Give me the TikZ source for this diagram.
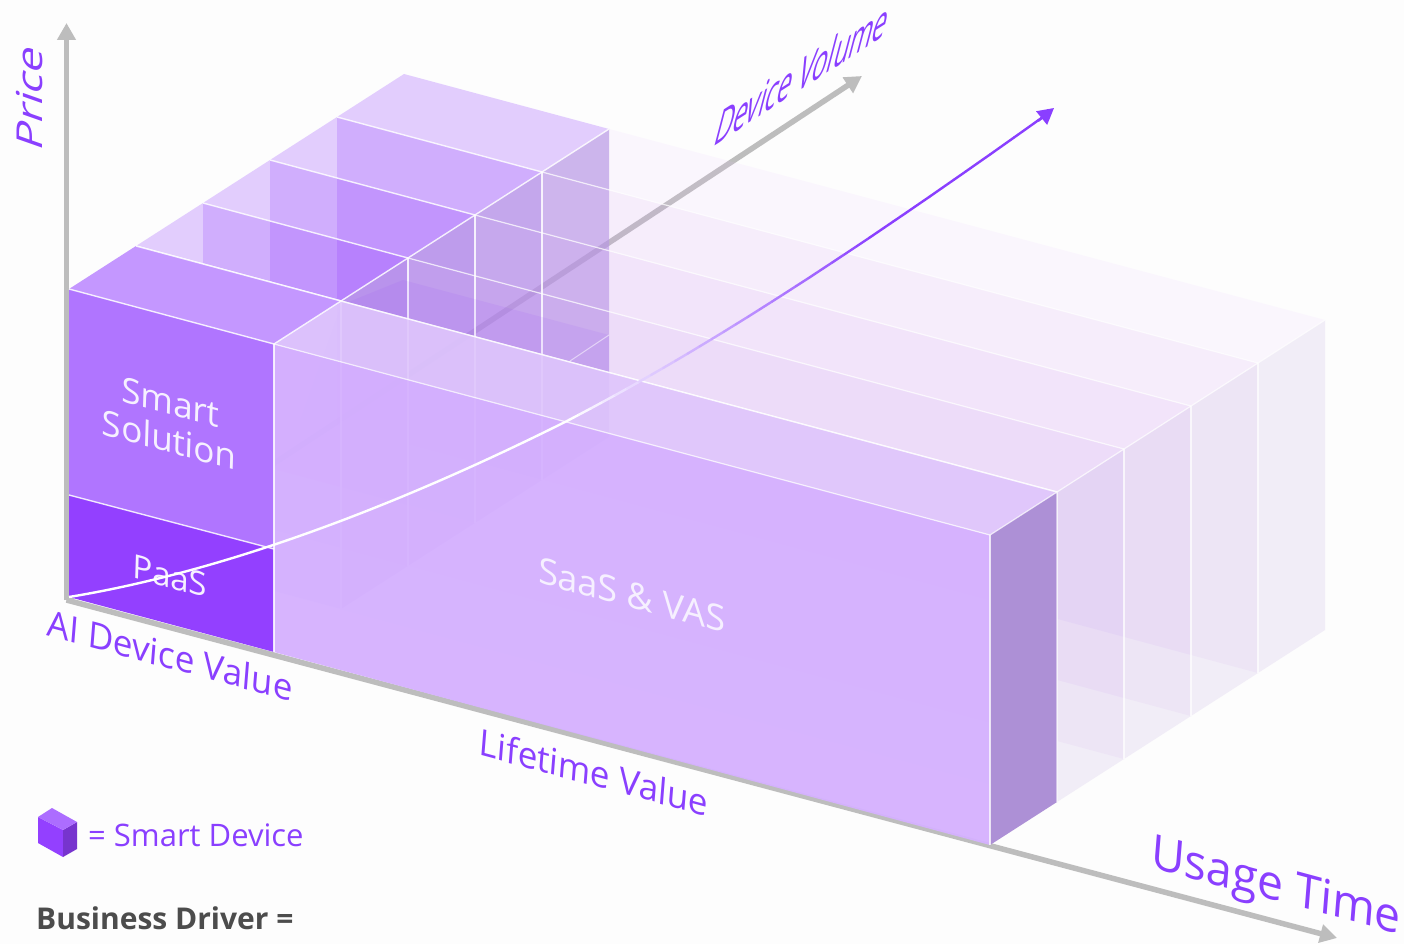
\documentclass[tikz,border=0pt]{standalone}
\usepackage{fontspec}
\setmainfont{Open Sans}
\usetikzlibrary{arrows.meta}
\definecolor{bg}{HTML}{FDFDFD}
\definecolor{axisgrey}{HTML}{BDBDBD}
\definecolor{lab}{HTML}{8A3FFF}
\definecolor{paas}{HTML}{9340FF}
\definecolor{solu}{HTML}{B075FF}
\definecolor{solutop}{HTML}{C497FF}
\definecolor{saas}{HTML}{D5B1FF}
\definecolor{saastop}{HTML}{DFC6FC}
\definecolor{sidec}{HTML}{AD90D6}
\definecolor{stackside}{HTML}{B08EE2}
\definecolor{palefront}{HTML}{B870EE}
\definecolor{paletop}{HTML}{EBC4FF}
\definecolor{inner}{HTML}{F6F0FF}
\tikzset{
  axisline/.style={draw=axisgrey,line width=5.5pt,-{Triangle[length=17pt,width=18pt]}},
  lbl/.style={transform shape,text=lab,font=\fontsize{36}{36}\selectfont,inner sep=0pt},
  inlbl/.style={transform shape,text=inner,font=\fontsize{35}{38}\selectfont,inner sep=0pt,align=center},
  edgeL/.style={draw=white,draw opacity=.85,line width=1.4pt},
  edgeR/.style={draw=white,draw opacity=.75,line width=1.2pt},
}
\begin{document}
\begin{tikzpicture}[x=1pt,y=-1pt]
\useasboundingbox (0,0) rectangle (1404,944);
\fill[bg] (0,0) rectangle (1404,944);
% axes
\coordinate (O) at (66.5,600);
\coordinate (pTip) at (66.5,23);
\coordinate (dTip) at (862,76);
\coordinate (uTip) at (1337,938);
\draw[axisline] (O) -- (pTip);
\draw[axisline] (O) -- (dTip);
\draw[axisline] (O) -- (uTip);
% rows 4..1, back to front
\foreach \k in {4,3,2,1}{
 \begin{scope}[shift={({67*\k},{-43*\k})}]
  % right section
  \fill[palefront,opacity=.07] (274,344)--(990,535)--(990,845)--(274,652)--cycle;
  \fill[paletop,opacity=.12] (274,344)--(990,535)--(1057,492)--(341,301)--cycle;
  \fill[sidec,opacity=.14] (990,535)--(1057,492)--(1057,802)--(990,845)--cycle;
  % left section
  \fill[paas,opacity=.22] (69,289)--(274,344)--(274,652)--(69,597)--cycle;
  \fill[paas,opacity=.25] (69,289)--(274,344)--(341,301)--(136,246)--cycle;
  \fill[stackside,opacity=.62] (274,344)--(341,301)--(341,609)--(274,652)--cycle;
 \end{scope}
}
\foreach \k in {4,3,2,1}{
 \begin{scope}[shift={({67*\k},{-43*\k})}]
  \draw[edgeL] (69,289)--(274,344);
  \draw[edgeL] (274,344)--(341,301);
  \draw[edgeL] (274,344)--(274,652);
  \draw[edgeR] (274,344)--(990,535);
  \draw[edgeR] (990,535)--(1057,492);
  \draw[edgeR] (990,535)--(990,845);
 \end{scope}
}
% PaaS level seen through the stack
\fill[paas,opacity=.09] (403,280)--(609,335)--(609,420)--(300,420)--(341,305)--cycle;
\draw[white,opacity=.5,line width=1pt] (609,335)--(570,361);
% front row
\fill[saas,opacity=.95] (274,344)--(990,535)--(990,845)--(274,652)--cycle;
\fill[saastop,opacity=.9] (274,344)--(990,535)--(1057,492)--(341,301)--cycle;
\fill[sidec] (990,535)--(1057,492)--(1057,802)--(990,845)--cycle;
\fill[solu] (69,289)--(274,344)--(274,549)--(69,495)--cycle;
\fill[paas] (69,495)--(274,549)--(274,652)--(69,597)--cycle;
\fill[solutop] (69,289)--(274,344)--(341,301)--(136,246)--cycle;
\draw[edgeL] (69,289)--(274,344)--(341,301);
\draw[edgeL] (136,246)--(341,301)--(1057,492);
\draw[edgeL] (69,495)--(274,549);
\draw[edgeL] (274,344)--(274,652);
\draw[edgeR] (274,344)--(990,535)--(1057,492)--(1057,802);
\draw[edgeR] (990,535)--(990,845);
% face labels
\node[inlbl,cm={1,-.268,.03,1,(170,421)}] (solution) at (0,0) {Smart\\Solution};
\node[inlbl,cm={1,-.268,.03,1,(170,576)},font=\fontsize{33}{38}\selectfont] (paaslab) at (0,0) {PaaS};
\node[inlbl,cm={1,-.268,.03,1,(632,595)},font=\fontsize{36}{38}\selectfont] (saaslab) at (0,0) {SaaS \& VAS};
% axis labels
\node[lbl,cm={.966,-.26,.08,1,(170,655)}] (aidv) at (0,0) {AI Device Value};
\node[lbl,cm={.966,-.26,.08,1,(594,772)}] (ltv) at (0,0) {Lifetime Value};
\node[lbl,cm={.966,-.26,.08,1,(1276,889)},font=\fontsize{47.5}{47.5}\selectfont] (ut) at (0,0) {Usage Time};
\node[lbl,cm={.57,.365,.3,1.15,(803,73)},font=\fontsize{44}{44}\selectfont] (dv) at (0,0) {Device Volume};
\node[lbl,cm={0,1.17,-.94,.33,(30,97)},font=\fontsize{38}{38}\selectfont] (price) at (0,0) {Price};
% value curve: white part, then fading into purple
\draw[white,line width=2.4pt] (69,597) .. controls (239,569) and (417,496) .. (567,421);
\foreach \i in {0,...,39}{
  \pgfmathsetmacro{\ta}{\i/40}
  \pgfmathsetmacro{\tb}{(\i+1)/40}
  \pgfmathsetmacro{\pc}{min(100,\ta*160)}
  \pgfmathsetmacro{\xa}{(1-\ta)^3*567+3*(1-\ta)^2*\ta*727+3*(1-\ta)*\ta^2*890+\ta^3*1050}
  \pgfmathsetmacro{\ya}{(1-\ta)^3*421+3*(1-\ta)^2*\ta*338+3*(1-\ta)*\ta^2*226+\ta^3*112}
  \pgfmathsetmacro{\xb}{(1-\tb)^3*567+3*(1-\tb)^2*\tb*727+3*(1-\tb)*\tb^2*890+\tb^3*1050}
  \pgfmathsetmacro{\yb}{(1-\tb)^3*421+3*(1-\tb)^2*\tb*338+3*(1-\tb)*\tb^2*226+\tb^3*112}
  \draw[lab!\pc!white,line width=2.4pt,line cap=round] (\xa,\ya) -- (\xb,\yb);
}
\coordinate (cTail) at (1038,121);
\coordinate (cTip) at (1054,108);
\draw[lab,line width=2.4pt,-{Triangle[length=16pt,width=17pt]}] (cTail) -- (cTip);
% legend
\fill[paas] (38,817)--(63,830)--(63,857)--(38,843)--cycle;
\fill[black!15!paas!95!black] (63,830)--(77,822)--(77,849)--(63,857)--cycle;
\fill[solu!85!paas] (38,817)--(52,808)--(77,822)--(63,830)--cycle;
\node[lbl,anchor=west,font=\fontsize{31}{31}\selectfont] (legend) at (88,835) {= Smart Device};
\node[anchor=west,inner sep=0pt,text=black!70,font=\bfseries\fontsize{30}{30}\selectfont] (driver) at (36,918) {Business Driver =};
\end{tikzpicture}
\end{document}
